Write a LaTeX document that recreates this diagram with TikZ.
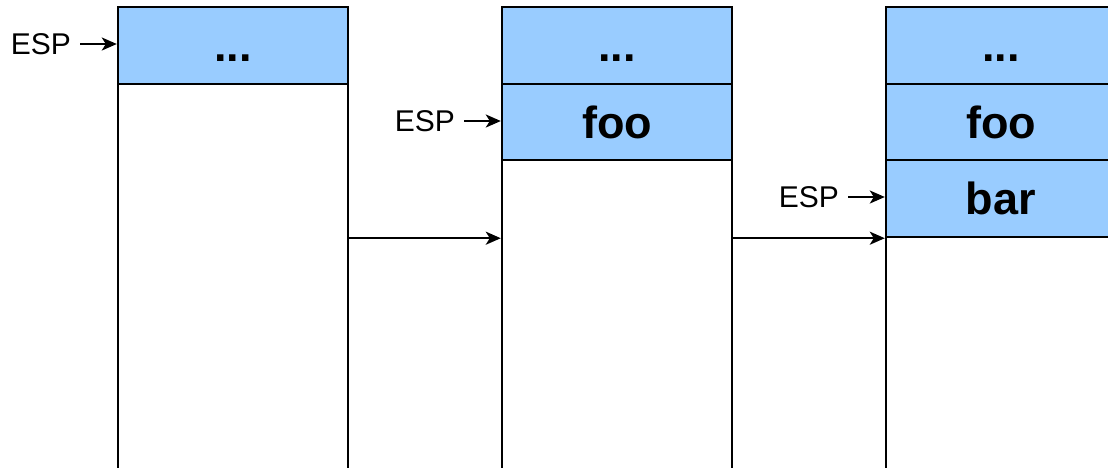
\documentclass[tikz,border=0pt]{standalone}
\usepackage{fontspec}
\setmainfont{Liberation Sans}
\usetikzlibrary{arrows.meta}
\definecolor{cellblue}{HTML}{99CCFF}
\begin{document}
\begin{tikzpicture}[x=1pt,y=-1pt,
  cellbase/.style={draw=black, line width=2.4pt, minimum width=230pt, inner sep=0pt,
    text height=32pt, text depth=0pt,
    font=\fontsize{45}{54}\selectfont\bfseries},
  bluecell/.style={cellbase, fill=cellblue},
  whitecell/.style={cellbase, fill=white},
  esplabel/.style={inner sep=0pt, anchor=east, font=\fontsize{30}{36}\selectfont},
  conn/.style={draw=black, line width=2.2pt, -{Stealth[length=15pt,width=13pt,inset=4pt]}}
]
\useasboundingbox (0,0) rectangle (1108,467);
\clip (0,0) rectangle (1108,467);
% stack 1
\node[bluecell, minimum height=77pt] (s1top) at (233,45.5) {...};
\node[whitecell, minimum height=385pt] (s1body) at (233,276.5) {};
% stack 2
\node[bluecell, minimum height=77pt] (s2top) at (617,45.5) {...};
\node[bluecell, minimum height=76pt] (s2foo) at (617,122) {foo};
\node[whitecell, minimum height=309pt] (s2body) at (617,314.5) {};
% stack 3
\node[bluecell, minimum height=77pt] (s3top) at (1001,45.5) {...};
\node[bluecell, minimum height=76pt] (s3foo) at (1001,122) {foo};
\node[bluecell, minimum height=77pt] (s3bar) at (1001,198.5) {bar};
\node[whitecell, minimum height=232pt] (s3body) at (1001,353) {};
% ESP labels
\node[esplabel] (esp1) at (71,44) {ESP};
\node[esplabel] (esp2) at (455,121) {ESP};
\node[esplabel] (esp3) at (839,197) {ESP};
\draw[conn] ([xshift=9pt]esp1.east) -- (esp1.east -| s1top.west);
\draw[conn] ([xshift=9pt]esp2.east) -- (esp2.east -| s2foo.west);
\draw[conn] ([xshift=9pt]esp3.east) -- (esp3.east -| s3bar.west);
% transitions
\draw[conn] (s1body.east |- s3bar.south) -- (s2body.west |- s3bar.south);
\draw[conn] (s2body.east |- s3bar.south) -- (s3bar.south west);
\end{tikzpicture}
\end{document}
